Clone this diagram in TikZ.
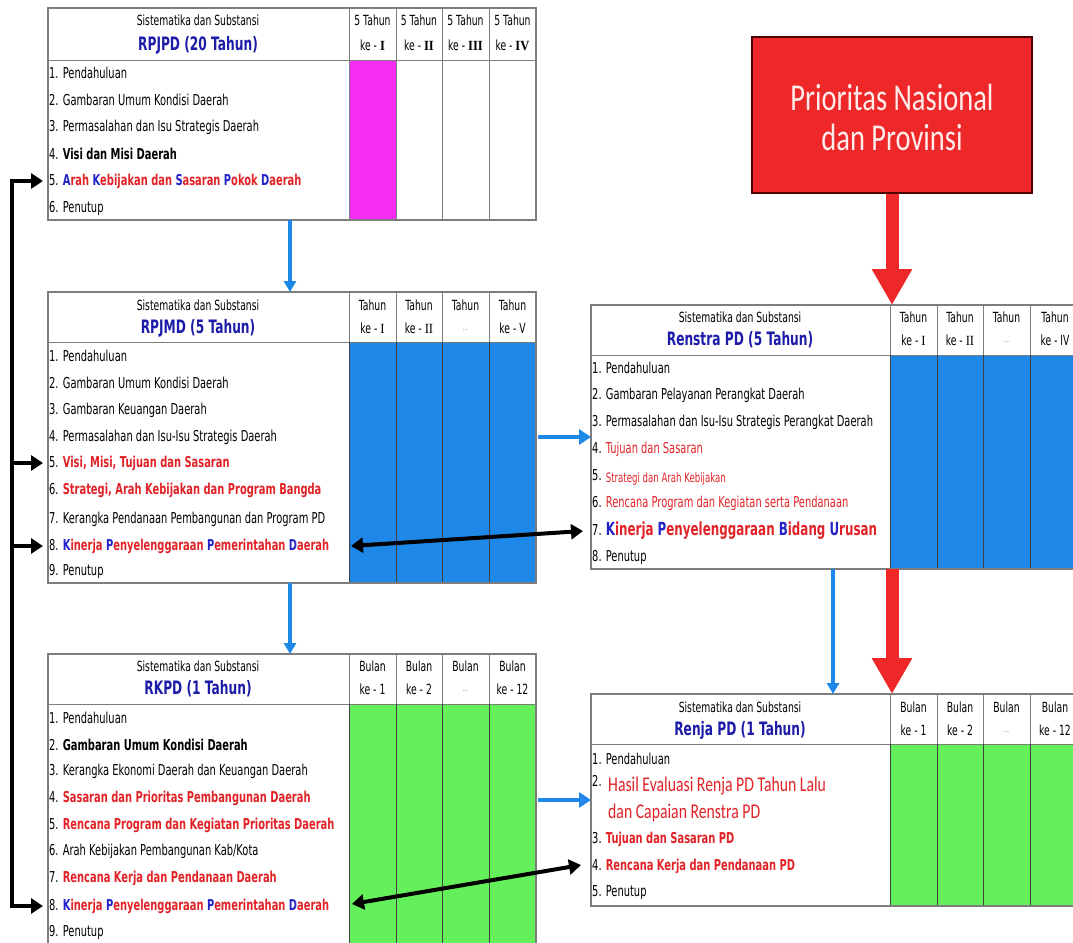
\documentclass[tikz,border=0pt]{standalone}
\usepackage{fontspec}
\setmainfont{DejaVu Sans}[FakeStretch=0.66]
\newfontfamily\calib{Carlito}[FakeStretch=0.75]
\newfontfamily\serifnum{Liberation Serif}[FakeStretch=0.9]
\usetikzlibrary{arrows.meta}
\definecolor{tblue}{RGB}{28,28,168}
\definecolor{ired}{RGB}{225,35,40}
\definecolor{iblue}{RGB}{35,35,200}
\definecolor{fblue}{RGB}{30,136,232}
\definecolor{fgreen}{RGB}{100,240,90}
\definecolor{fmag}{RGB}{245,45,245}
\definecolor{boxred}{RGB}{238,40,40}
\definecolor{boxtxt}{RGB}{255,236,236}
\definecolor{gridc}{RGB}{125,125,125}
\newcommand\Bl[1]{\textcolor{iblue}{#1}}
\newcommand\Rd[1]{\textcolor{ired}{#1}}
\newcommand\rn[1]{{\serifnum #1}}
\begin{document}
\begin{tikzpicture}[x=1pt,y=-1pt,
  tblbox/.style={draw=gridc, line width=1.3pt, inner sep=0pt, outer sep=0pt},
  gline/.style={draw=gridc, line width=1pt},
  dline/.style={draw=black!75, line width=0.8pt},
  hdr/.style={font=\fontsize{14}{16}\selectfont, inner sep=0pt},
  ttl/.style={font=\fontsize{18.5}{21}\selectfont\bfseries, text=tblue, inner sep=0pt},
  colh/.style={font=\fontsize{14}{16}\selectfont, inner sep=0pt},
  row/.style={anchor=west, inner sep=0pt, font=\fontsize{15}{17}\selectfont},
  blk/.style={line width=4pt, -{Triangle[length=12pt,width=15pt]}},
  blkd/.style={line width=4pt, {Triangle[length=12pt,width=15pt]}-{Triangle[length=12pt,width=15pt]}},
  bluearr/.style={draw=fblue, line width=3.5pt, -{Triangle[length=11pt,width=12pt]}},
  bluearrh/.style={draw=fblue, line width=4.5pt, -{Triangle[length=12pt,width=15pt]}},
  redarr/.style={draw=boxred, line width=13pt, -{Triangle[length=36pt,width=38pt]}},
  redbox/.style={fill=boxred, draw=black!70!red, line width=1.5pt, inner sep=0pt},
  boxtext/.style={font=\calib\fontsize{38}{38}\selectfont, text=boxtxt, align=center, inner sep=0pt}
]
\useasboundingbox (0,0) rectangle (1073,942);
\fill[white] (0,0) rectangle (1073,942);
\clip (0,0) rectangle (1073,942);

% ================= Table 1: RPJPD =================
\fill[fmag] (349,61) rectangle (396,220);
\draw[gline] (48,61) -- (536,61);
\foreach \x in {349,396,442,489} \draw[gline] (\x,8) -- (\x,220);
\node[tblbox, minimum width=488pt, minimum height=212pt] (t1) at (292,114) {};
\node[hdr] (t1h) at (198,20) {Sistematika dan Substansi};
\node[ttl] (t1t) at (198,45) {RPJPD (20 Tahun)};
\node[colh] (t1c1a) at (372.5,20) {5 Tahun};
\node[colh] (t1c1b) at (372.5,45) {ke - \textbf{\rn{I}}};
\node[colh] (t1c2a) at (419,20) {5 Tahun};
\node[colh] (t1c2b) at (419,45) {ke - \textbf{\rn{II}}};
\node[colh] (t1c3a) at (465.5,20) {5 Tahun};
\node[colh] (t1c3b) at (465.5,45) {ke - \textbf{\rn{III}}};
\node[colh] (t1c4a) at (512.5,20) {5 Tahun};
\node[colh] (t1c4b) at (512.5,45) {ke - \textbf{\rn{IV}}};
\node[row] (t1r1) at (49,73) {1. Pendahuluan};
\node[row] (t1r2) at (49,100) {2. Gambaran Umum Kondisi Daerah};
\node[row] (t1r3) at (49,127) {3. Permasalahan dan Isu Strategis Daerah};
\node[row] (t1r4) at (49,154) {4. \textbf{Visi dan Misi Daerah}};
\node[row] (t1r5) at (49,181) {5. \textbf{\Bl{A}\Rd{rah }\Bl{K}\Rd{ebijakan dan }\Bl{S}\Rd{asaran }\Bl{P}\Rd{okok }\Bl{D}\Rd{aerah}}};
\node[row] (t1r6) at (49,208) {6. Penutup};

% ================= Table 2: RPJMD =================
\fill[fblue] (349,342) rectangle (536,583);
\draw[gline] (48,342) -- (536,342);
\foreach \x in {349,396,442,489} {
  \draw[gline] (\x,292) -- (\x,342);
  \draw[dline] (\x,342) -- (\x,583);
}
\node[tblbox, minimum width=488pt, minimum height=291pt] (t2) at (292,437.5) {};
\node[hdr] (t2h) at (198,305) {Sistematika dan Substansi};
\node[ttl] (t2t) at (198,328) {RPJMD (5 Tahun)};
\node[colh] (t2c1a) at (372.5,305) {Tahun};
\node[colh] (t2c1b) at (372.5,328) {ke - \rn{I}};
\node[colh] (t2c2a) at (419,305) {Tahun};
\node[colh] (t2c2b) at (419,328) {ke - \rn{II}};
\node[colh] (t2c3a) at (465.5,305) {Tahun};
\node[colh, text=gray] (t2c3b) at (465.5,330) {\fontsize{8}{9}\selectfont...};
\node[colh] (t2c4a) at (512.5,305) {Tahun};
\node[colh] (t2c4b) at (512.5,328) {ke - V};
\node[row] (t2r1) at (49,356) {1. Pendahuluan};
\node[row] (t2r2) at (49,383) {2. Gambaran Umum Kondisi Daerah};
\node[row] (t2r3) at (49,410) {3. Gambaran Keuangan Daerah};
\node[row] (t2r4) at (49,437) {4. Permasalahan dan Isu-Isu Strategis Daerah};
\node[row] (t2r5) at (49,463) {5. \Rd{\textbf{Visi, Misi, Tujuan dan Sasaran}}};
\node[row] (t2r6) at (49,490) {6. \Rd{\textbf{Strategi, Arah Kebijakan dan Program Bangda}}};
\node[row] (t2r7) at (49,519) {7. Kerangka Pendanaan Pembangunan dan Program PD};
\node[row] (t2r8) at (49,546) {8. \textbf{\Bl{K}\Rd{inerja }\Bl{P}\Rd{enyelenggaraan }\Bl{P}\Rd{emerintahan }\Bl{D}\Rd{aerah}}};
\node[row] (t2r9) at (49,571) {9. Penutup};

% ================= Table 3: RKPD =================
\fill[fgreen] (349,704) rectangle (536,960);
\draw[gline] (48,704) -- (536,704);
\foreach \x in {349,396,442,489} {
  \draw[gline] (\x,654) -- (\x,704);
  \draw[dline] (\x,704) -- (\x,960);
}
\node[tblbox, minimum width=488pt, minimum height=306pt] (t3) at (292,807) {};
\node[hdr] (t3h) at (198,666) {Sistematika dan Substansi};
\node[ttl] (t3t) at (198,689) {RKPD (1 Tahun)};
\node[colh] (t3c1a) at (372.5,666) {Bulan};
\node[colh] (t3c1b) at (372.5,689) {ke - 1};
\node[colh] (t3c2a) at (419,666) {Bulan};
\node[colh] (t3c2b) at (419,689) {ke - 2};
\node[colh] (t3c3a) at (465.5,666) {Bulan};
\node[colh, text=gray] (t3c3b) at (465.5,691) {\fontsize{8}{9}\selectfont...};
\node[colh] (t3c4a) at (512.5,666) {Bulan};
\node[colh] (t3c4b) at (512.5,689) {ke - 12};
\node[row] (t3r1) at (49,718) {1. Pendahuluan};
\node[row] (t3r2) at (49,745) {2. \textbf{Gambaran Umum Kondisi Daerah}};
\node[row] (t3r3) at (49,771) {3. Kerangka Ekonomi Daerah dan Keuangan Daerah};
\node[row] (t3r4) at (49,798) {4. \Rd{\textbf{Sasaran dan Prioritas Pembangunan Daerah}}};
\node[row] (t3r5) at (49,825) {5. \Rd{\textbf{Rencana Program dan Kegiatan Prioritas Daerah}}};
\node[row] (t3r6) at (49,851) {6. Arah Kebijakan Pembangunan Kab/Kota};
\node[row] (t3r7) at (49,878) {7. \Rd{\textbf{Rencana Kerja dan Pendanaan Daerah}}};
\node[row] (t3r8) at (49,906) {8. \textbf{\Bl{K}\Rd{inerja }\Bl{P}\Rd{enyelenggaraan }\Bl{P}\Rd{emerintahan }\Bl{D}\Rd{aerah}}};
\node[row] (t3r9) at (49,932) {9. Penutup};

% ================= Table 4: Renstra PD =================
\fill[fblue] (890,355) rectangle (1085,569);
\draw[gline] (591,355) -- (1085,355);
\foreach \x in {890,937,983,1030} {
  \draw[gline] (\x,305) -- (\x,355);
  \draw[dline] (\x,355) -- (\x,569);
}
\node[tblbox, minimum width=494pt, minimum height=264pt] (t4) at (838,437) {};
\node[hdr] (t4h) at (740,317) {Sistematika dan Substansi};
\node[ttl] (t4t) at (740,340) {Renstra PD (5 Tahun)};
\node[colh] (t4c1a) at (913.5,317) {Tahun};
\node[colh] (t4c1b) at (913.5,340) {ke - \rn{I}};
\node[colh] (t4c2a) at (960,317) {Tahun};
\node[colh] (t4c2b) at (960,340) {ke - \rn{II}};
\node[colh] (t4c3a) at (1006.5,317) {Tahun};
\node[colh, text=gray] (t4c3b) at (1006.5,342) {\fontsize{8}{9}\selectfont...};
\node[colh] (t4c4a) at (1055,317) {Tahun};
\node[colh] (t4c4b) at (1055,340) {ke - IV};
\node[row] (t4r1) at (592,368) {1. Pendahuluan};
\node[row] (t4r2) at (592,395) {2. Gambaran Pelayanan Perangkat Daerah};
\node[row] (t4r3) at (592,422) {3. Permasalahan dan Isu-Isu Strategis Perangkat Daerah};
\node[row] (t4r4) at (592,449) {4. \Rd{Tujuan dan Sasaran}};
\node[row] (t4r5) at (592,477) {5. \raisebox{-2pt}{\fontsize{13}{15}\selectfont\Rd{Strategi dan Arah Kebijakan}}};
\node[row] (t4r6) at (592,503) {6. \Rd{Rencana Program dan Kegiatan serta Pendanaan}};
\node[row] (t4r7) at (592,531) {7. {\fontsize{18}{20}\selectfont\textbf{\Bl{K}\Rd{inerja }\Bl{P}\Rd{enyelenggaraan }\Bl{B}\Rd{idang }\Bl{U}\Rd{rusan}}}};
\node[row] (t4r8) at (592,557) {8. Penutup};

% ================= Table 5: Renja PD =================
\fill[fgreen] (890,744) rectangle (1085,906);
\draw[gline] (591,744) -- (1085,744);
\foreach \x in {890,937,983,1030} {
  \draw[gline] (\x,694) -- (\x,744);
  \draw[dline] (\x,744) -- (\x,906);
}
\node[tblbox, minimum width=494pt, minimum height=212pt] (t5) at (838,800) {};
\node[hdr] (t5h) at (740,707) {Sistematika dan Substansi};
\node[ttl] (t5t) at (740,730) {Renja PD (1 Tahun)};
\node[colh] (t5c1a) at (913.5,707) {Bulan};
\node[colh] (t5c1b) at (913.5,730) {ke - 1};
\node[colh] (t5c2a) at (960,707) {Bulan};
\node[colh] (t5c2b) at (960,730) {ke - 2};
\node[colh] (t5c3a) at (1006.5,707) {Bulan};
\node[colh, text=gray] (t5c3b) at (1006.5,732) {\fontsize{8}{9}\selectfont...};
\node[colh] (t5c4a) at (1055,707) {Bulan};
\node[colh] (t5c4b) at (1055,730) {ke - 12};
\node[row] (t5r1) at (592,759) {1. Pendahuluan};
\node[row] (t5r2n) at (592,781) {2.};
\node[row, font=\calib\fontsize{21}{24}\selectfont, text=ired] (t5r2a) at (608,786) {Hasil Evaluasi Renja PD Tahun Lalu};
\node[row, font=\calib\fontsize{21}{24}\selectfont, text=ired] (t5r2b) at (608,813) {dan Capaian Renstra PD};
\node[row] (t5r3) at (592,839) {3. \Rd{\textbf{Tujuan dan Sasaran PD}}};
\node[row] (t5r4) at (592,866) {4. \Rd{\textbf{Rencana Kerja dan Pendanaan PD}}};
\node[row] (t5r5) at (592,893) {5. Penutup};

% ================= Red box =================
\node[redbox, minimum width=280pt, minimum height=156pt] (pn) at (892,115) {};
\node[boxtext] (pntext) at (892,117) {Prioritas Nasional\\[2pt]dan Provinsi};

% ================= Connectors =================
\coordinate (bx1) at (290,0);
\coordinate (bx2) at (833,0);
\coordinate (by1) at (0,437);
\coordinate (by2) at (0,800);
\draw[bluearr] (t1.south -| bx1) -- (t2.north -| bx1);
\draw[bluearr] (t2.south -| bx1) -- (t3.north -| bx1);
\draw[bluearrh, shorten <=2pt] (t2.east |- by1) -- (t4.west |- by1);
\draw[bluearrh, shorten <=2pt] (t3.east |- by2) -- (t5.west |- by2);
\draw[bluearr] (t4.south -| bx2) -- (t5.north -| bx2);

\draw[redarr] (pn.south) -- (t4.north -| pn.south);
\draw[redarr] (t4.south -| pn.south) -- (t5.north -| pn.south);

\coordinate (brtop) at (12,181);
\coordinate (br2) at (12,463);
\coordinate (br3) at (12,546);
\coordinate (brbot) at (12,906);
\coordinate (t1in) at (43,181);
\coordinate (t2in5) at (43,463);
\coordinate (t2in8) at (43,546);
\coordinate (t3in) at (43,906);
\draw[blkd] (t1in) -- (brtop) -- (brbot) -- (t3in);
\draw[blk] (br2) -- (t2in5);
\draw[blk] (br3) -- (t2in8);

\coordinate (d1l) at (351,546);
\coordinate (d1r) at (583,531);
\coordinate (d2l) at (352,904);
\coordinate (d2r) at (581,865);
\draw[blkd] (d1l) -- (d1r);
\draw[blkd] (d2l) -- (d2r);
\end{tikzpicture}
\end{document}
